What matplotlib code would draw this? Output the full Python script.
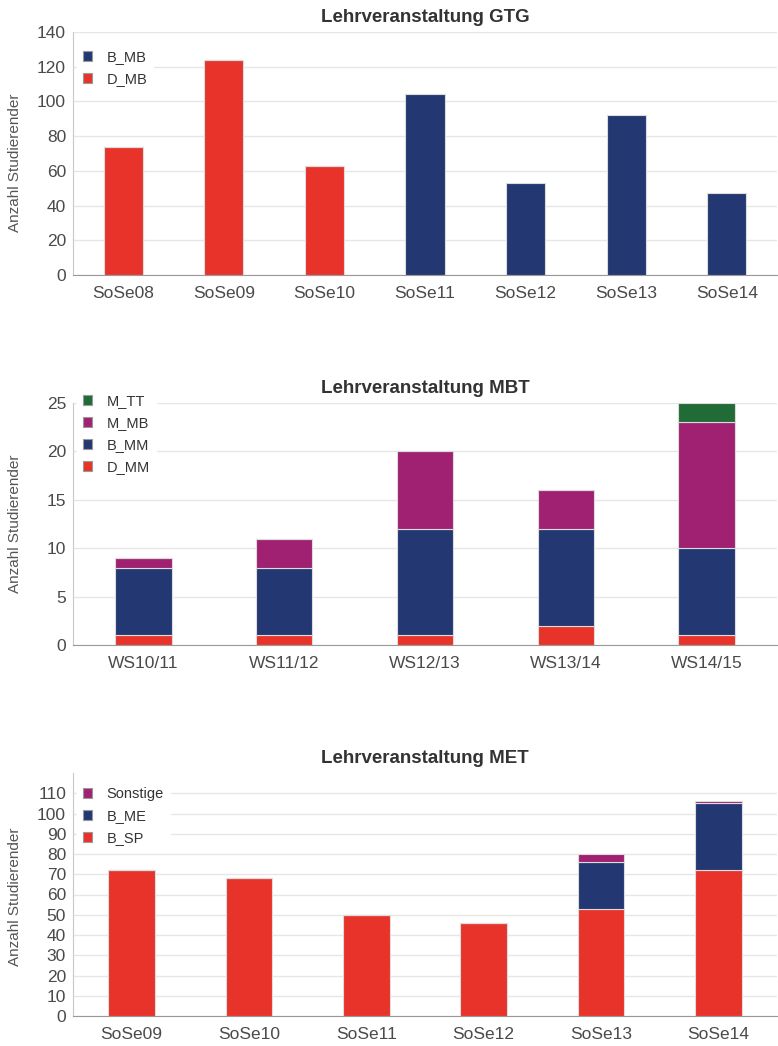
import numpy as np
import matplotlib.pyplot as plt
from matplotlib.patches import Patch

plt.rcParams['font.family'] = ['Liberation Sans', 'DejaVu Sans']

ROT = '#e8332a'
BLAU = '#233872'
LILA = '#a02171'
GRUEN = '#216b37'

# Lehrveranstaltung GTG
gtg_sem = ['SoSe08', 'SoSe09', 'SoSe10', 'SoSe11', 'SoSe12', 'SoSe13', 'SoSe14']
gtg_d_mb = [74, 124, 63, 0, 0, 0, 0]
gtg_b_mb = [0, 0, 0, 104, 53, 92, 47]

# Lehrveranstaltung MBT
mbt_sem = ['WS10/11', 'WS11/12', 'WS12/13', 'WS13/14', 'WS14/15']
mbt_d_mm = [1, 1, 1, 2, 1]
mbt_b_mm = [7, 7, 11, 10, 9]
mbt_m_mb = [1, 3, 8, 4, 13]
mbt_m_tt = [0, 0, 0, 0, 2]

# Lehrveranstaltung MET
met_sem = ['SoSe09', 'SoSe10', 'SoSe11', 'SoSe12', 'SoSe13', 'SoSe14']
met_b_sp = [72, 68, 50, 46, 53, 72]
met_b_me = [0, 0, 0, 0, 23, 33]
met_sonst = [0, 0, 0, 0, 4, 1]

W, H = 778, 1046
fig = plt.figure(figsize=(W / 100, H / 100), dpi=100)


def achse(top, bottom, left=73, right=777):
    return fig.add_axes([left / W, 1 - bottom / H, (right - left) / W, (bottom - top) / H])


def gestapelt(ax, kategorien, reihen, breite):
    x = np.arange(len(kategorien))
    unten = np.zeros(len(kategorien))
    for werte, farbe in reihen:
        werte = np.array(werte, dtype=float)
        ax.bar(x, werte, breite, bottom=unten, color=farbe,
               edgecolor='#dcdcdc', linewidth=0.8, zorder=3)
        unten += werte
    ax.set_xticks(x)
    ax.set_xticklabels(kategorien)
    ax.set_xlim(-0.5, len(kategorien) - 0.5)


def stil(ax, titel, ymax, yticks, label_y=0.5):
    ax.set_ylim(0, ymax)
    ax.set_yticks(yticks)
    ax.grid(axis='y', color='#e6e6e6', linewidth=1, zorder=0)
    ax.set_axisbelow(True)
    for s in ['top', 'right']:
        ax.spines[s].set_visible(False)
    ax.spines['left'].set_color('#c8c8c8')
    ax.spines['bottom'].set_color('#999999')
    ax.tick_params(axis='both', length=0, labelsize=12.5, colors='#4a4a4a', pad=5)
    ax.tick_params(axis='x', pad=8)
    ax.set_ylabel('Anzahl Studierender', fontsize=11, color='#555555')
    ax.yaxis.set_label_coords(-0.072, label_y)
    ax.set_title(titel, fontsize=13.5, fontweight='bold', color='#333333', pad=7)


def legende(ax, eintraege, oben):
    griffe = [Patch(facecolor=f, edgecolor='#999999', linewidth=0.8, label=n) for n, f in eintraege]
    leg = ax.legend(handles=griffe, loc='upper left', frameon=True, fontsize=10.5,
                    handlelength=0.6, handleheight=0.6, handletextpad=1.0,
                    labelspacing=0.55, borderaxespad=0.3, bbox_to_anchor=(0.0, oben))
    leg.get_frame().set_edgecolor('white')
    leg.get_frame().set_facecolor('white')
    leg.get_frame().set_alpha(1)
    for t in leg.get_texts():
        t.set_color('#333333')


# GTG
ax1 = achse(32, 275)
gestapelt(ax1, gtg_sem, [(gtg_d_mb, ROT), (gtg_b_mb, BLAU)], 0.39)
stil(ax1, 'Lehrveranstaltung GTG', 140, range(0, 141, 20), label_y=0.46)
legende(ax1, [('B_MB', BLAU), ('D_MB', ROT)], 1 - 8 / 243)

# MBT
ax2 = achse(403, 645)
gestapelt(ax2, mbt_sem, [(mbt_d_mm, ROT), (mbt_b_mm, BLAU), (mbt_m_mb, LILA), (mbt_m_tt, GRUEN)], 0.4)
stil(ax2, 'Lehrveranstaltung MBT', 25, range(0, 26, 5))
legende(ax2, [('M_TT', GRUEN), ('M_MB', LILA), ('B_MM', BLAU), ('D_MM', ROT)], 1 + 19 / 242)

# MET
ax3 = achse(773, 1016)
gestapelt(ax3, met_sem, [(met_b_sp, ROT), (met_b_me, BLAU), (met_sonst, LILA)], 0.4)
stil(ax3, 'Lehrveranstaltung MET', 120, range(0, 111, 10), label_y=0.49)
legende(ax3, [('Sonstige', LILA), ('B_ME', BLAU), ('B_SP', ROT)], 1 - 4 / 243)

fig.savefig('out.png', dpi=100)
